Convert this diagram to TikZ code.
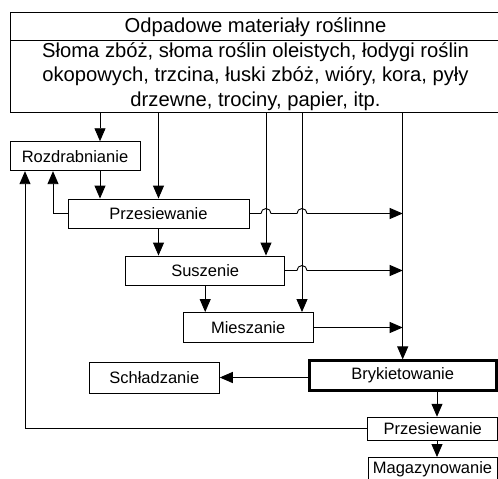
\documentclass[tikz,border=0pt]{standalone}
\usepackage{fontspec}
\setmainfont{Liberation Sans}
\usetikzlibrary{arrows.meta}
\begin{document}
\begin{tikzpicture}[x=1pt,y=-1pt,
  box/.style={draw,line width=0.9pt,inner sep=0pt,font=\fontsize{16.5}{19}\selectfont},
  bigfont/.style={font=\fontsize{20.2}{24.4}\selectfont},
  line/.style={line width=0.9pt},
  arr/.style={line width=0.9pt,-{Triangle[width=11pt,length=13pt]}}]
\useasboundingbox (0,0) rectangle (498,479);
\clip (0,0) rectangle (498,479);
% source box
\node[draw,line width=0.9pt,bigfont,minimum width=491,minimum height=28,inner sep=0pt] (title) at (255.5,26.7) {Odpadowe materiały roślinne};
\node[draw,line width=0.9pt,bigfont,minimum width=491,minimum height=71.3,inner sep=0pt,align=center] (body) at (255.5,76.35)
  {Słoma zbóż, słoma roślin oleistych, łodygi roślin\\okopowych, trzcina, łuski zbóż, wióry, kora, pyły\\drzewne, trociny, papier, itp.};
% process boxes
\node[box,minimum width=130,minimum height=29] (rozd) at (75,156.2) {Rozdrabnianie};
\node[box,minimum width=181,minimum height=29] (prz1) at (158.5,213.5) {Przesiewanie};
\node[box,minimum width=159,minimum height=29] (sus) at (205.2,270.5) {Suszenie};
\node[box,minimum width=130,minimum height=30] (mies) at (248.2,327.5) {Mieszanie};
\node[box,line width=2.6pt,minimum width=187,minimum height=30] (bryk) at (402.7,375.7) {Brykietowanie};
\node[box,minimum width=130,minimum height=31] (schl) at (154.3,377.5) {Schładzanie};
\node[box,minimum width=130,minimum height=23] (prz2) at (432.8,428.7) {Przesiewanie};
\node[box,minimum width=129,minimum height=23] (mag) at (432.5,469) {Magazynowanie};
% helper x positions
\coordinate (xa) at (100,0);
\coordinate (xb) at (266,0);
\coordinate (xc) at (302,0);
\coordinate (xf) at (53,0);
\coordinate (xg) at (25,0);
\coordinate (xh) at (437,0);
\coordinate (jb) at (261,0);
\coordinate (jc) at (297,0);
% feeds from source
\draw[arr] (body.south -| xa) -- (rozd.north -| xa);
\draw[arr] (body.south -| prz1.north) -- (prz1.north);
\draw[arr] (body.south -| xb) -- (sus.north -| xb);
\draw[arr] (body.south -| xc) -- (mies.north -| xc);
\draw[arr] (body.south -| bryk.north) -- (bryk.north);
% main chain
\draw[arr] (rozd.south -| xa) -- (prz1.north -| xa);
\draw[arr] (prz1.south) -- (sus.north -| prz1.south);
\draw[arr] (sus.south) -- (mies.north -| sus.south);
\draw[arr] (schl.east -| bryk.west) -- (schl.east);
\draw[arr] (bryk.south -| xh) -- (prz2.north -| xh);
\draw[arr] (prz2.south -| xh) -- (mag.north -| xh);
% to briquetting line with jumps
\draw[arr] (prz1.east) -- (prz1.east -| jb) arc[start angle=180,end angle=360,radius=5]
  -- (prz1.east -| jc) arc[start angle=180,end angle=360,radius=5] -- (prz1.east -| bryk.north);
\draw[arr] (sus.east) -- (sus.east -| jc) arc[start angle=180,end angle=360,radius=5] -- (sus.east -| bryk.north);
\draw[arr] (mies.east) -- (mies.east -| bryk.north);
% feedback loops
\draw[arr] (prz1.west) -- (prz1.west -| xf) -- (rozd.south -| xf);
\draw[arr] (prz2.west) -- (prz2.west -| xg) -- (rozd.south -| xg);
\end{tikzpicture}
\end{document}
